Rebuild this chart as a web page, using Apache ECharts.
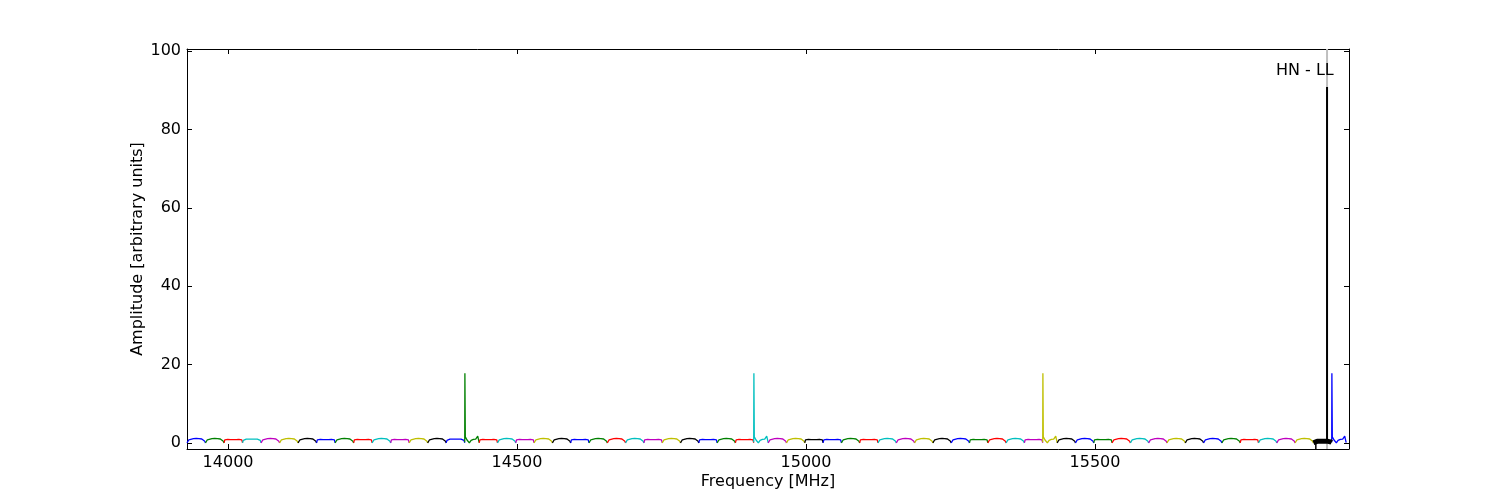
<!DOCTYPE html>
<html><head><meta charset="utf-8">
<script src="https://cdn.jsdelivr.net/npm/echarts@6/dist/echarts.min.js"></script>
<style>html,body{margin:0;padding:0;background:#fff}#c{width:1500px;height:500px}</style>
</head><body><div id="c"></div>
<script>
// ---- data ----
const xTicks = [14000, 14500, 15000, 15500];
const yTicks = [0, 20, 40, 60, 80, 100];
const xRange = [13929, 15939.4];
const yRange = [-1.5, 100.5];

// boundaries (MHz) of the consecutive spectrometer segments
const segmentEdges = [
  13929, 13961, 13993.1, 14025.1, 14057.1, 14089.2, 14121.2, 14153.2, 14185.3, 14217.3, 14249.3, 14281.4, 14313.4, 14345.4, 14377.5,
  14409.5, 14434.5, 14466.2, 14497.8, 14529.5, 14561.2, 14592.8, 14624.5, 14656.2, 14687.8, 14719.5, 14751.2, 14782.8, 14814.5, 14846.2, 14877.8,
  14909.5, 14934.5, 14966.2, 14997.8, 15029.5, 15061.2, 15092.8, 15124.5, 15156.2, 15187.8, 15219.5, 15251.2, 15282.8, 15314.5, 15346.2, 15377.8,
  15409.5, 15434.5, 15466.2, 15497.8, 15529.5, 15561.2, 15592.8, 15624.5, 15656.2, 15687.8, 15719.5, 15751.2, 15782.8, 15814.5, 15846.2, 15877.8,
  15909.5, 15945
];
// segments that start with a spike, and the spike heights
const spikeSegments = [15, 31, 47, 63];
const spikeHeights = [17.8, 17.8, 17.8, 17.8];
// passband profiles (fraction of segment width -> amplitude)
const profileOffsets = [0, 0.04, 0.1, 0.2, 0.35, 0.5, 0.65, 0.8, 0.9, 0.96, 1];
const archValues  = [0.05, 0.5, 0.85, 1.05, 1.15, 1.18, 1.15, 1.05, 0.85, 0.5, 0.05];
const hornValues  = [0.1, 0.85, 1.3, 0.95, 0.9, 0.9, 0.9, 0.95, 1.3, 0.85, 0.1];
const flatValues  = [0.1, 0.7, 0.95, 1.0, 1.0, 1.0, 1.0, 1.0, 0.95, 0.7, 0.1];
const thickValues = [0.1, 0.3, 0.4, 0.45, 0.45, 0.45, 0.45, 0.45, 0.4, 0.3, 0.2];
// profile used by each segment (0 arch, 1 horns, 2 flat, 3 thick highlighted)
const segmentShapes = [
  0,0,1,2,0,0,0,1,0,1,0,1,0,0,2,
  0,1,0,1,0,0,1,0,0,0,1,0,0,1,0,1,
  0,0,0,1,1,0,1,0,0,0,0,0,1,0,0,1,
  0,0,0,1,0,0,0,0,0,0,0,1,0,0,0,3,
  0
];
// profile after a spike: MHz after spike start -> amplitude
const spikeTailOffsets = [1.0, 4, 8, 11, 15, 19, 22.5, 25];
const spikeTailValues  = [1.6, 0.8, 0.05, 0.7, 0.95, 1.0, 1.8, 0.15];
const highlightSegment = 62;
// HN - LL line
const lineFreq = 15901.4;
const lineHeight = 90.8;
const markerTickFreq = 15882;
const labelText = 'HN - LL';
const labelPos = [15863, 94.9];

const colorCycle = ['#0000ff', '#008000', '#ff0000', '#00bfbf', '#bf00bf', '#bfbf00', '#000000'];
const shapeTable = [archValues, hornValues, flatValues, thickValues];

const series = [];
// grey full-height line first (behind)
series.push({type:'line', data:[[lineFreq, yRange[0]], [lineFreq, yRange[1]]], showSymbol:false,
  lineStyle:{color:'#bfbfbf', width:2}, silent:true, z:1, animation:false});

for (let i = 0; i < segmentEdges.length - 1; i++) {
  const a = segmentEdges[i], b = segmentEdges[i + 1];
  const pts = [];
  const si = spikeSegments.indexOf(i);
  if (si >= 0) {
    pts.push([a, 0.2]);
    pts.push([a + 0.3, spikeHeights[si]]);
    for (let k = 0; k < spikeTailOffsets.length; k++) pts.push([a + spikeTailOffsets[k], spikeTailValues[k]]);
  } else {
    const vals = shapeTable[segmentShapes[i]];
    for (let k = 0; k < profileOffsets.length; k++) pts.push([a + profileOffsets[k] * (b - a), vals[k]]);
  }
  series.push({type:'line', data:pts, showSymbol:false, animation:false, silent:true,
    lineStyle:{color:colorCycle[i % colorCycle.length], width: i === highlightSegment ? 5 : 1.3},
    z: i === highlightSegment ? 3 : 2});
}
// black HN-LL line
series.push({type:'line', data:[[lineFreq, 0], [lineFreq, lineHeight]], showSymbol:false, animation:false,
  lineStyle:{color:'#000', width:2}, z:4, silent:true});
series.push({type:'line', data:[[markerTickFreq, yRange[0]], [markerTickFreq, 0.5]], showSymbol:false, animation:false,
  lineStyle:{color:'#000', width:1.5}, z:4, silent:true});
series.push({type:'scatter', data:[labelPos], symbolSize:0, animation:false, silent:true, z:5,
  itemStyle:{color:'#000', opacity:1},
  label:{show:true, position:'inside', formatter:labelText, color:'#000', textBorderWidth:0, opacity:1,
    fontSize:16, fontFamily:'DejaVu Sans'}});

const font = {color:'#000', fontSize:16, fontFamily:'DejaVu Sans'};
const plain = v => String(v);
const baseX = {type:'value', min:xRange[0], max:xRange[1], splitLine:{show:false},
  axisLine:{show:true, onZero:false, lineStyle:{color:'#000', width:1}},
  axisTick:{show:true, inside:true, length:5, lineStyle:{color:'#000'}, customValues:xTicks}};
const baseY = {type:'value', min:yRange[0], max:yRange[1], splitLine:{show:false},
  axisLine:{show:true, onZero:false, lineStyle:{color:'#000', width:1}},
  axisTick:{show:true, inside:true, length:5, lineStyle:{color:'#000'}, customValues:yTicks}};

const option = {
  backgroundColor:'#fff',
  animation:false,
  grid:{left:187, right:151, top:49, bottom:51, containLabel:false},
  xAxis:[
    Object.assign({}, baseX, {position:'bottom', name:'Frequency [MHz]', nameLocation:'middle', nameGap:25,
      nameMoveOverlap:false,
      nameTextStyle:font, axisLabel:Object.assign({show:true, margin:6, customValues:xTicks, formatter:plain}, font)}),
    Object.assign({}, baseX, {position:'top', axisLabel:{show:false}})
  ],
  yAxis:[
    Object.assign({}, baseY, {position:'left', name:'Amplitude [arbitrary units]', nameLocation:'middle', nameGap:41,
      nameMoveOverlap:false,
      nameTextStyle:font, axisLabel:Object.assign({show:true, margin:6, customValues:yTicks, formatter:plain}, font)}),
    Object.assign({}, baseY, {position:'right', axisLabel:{show:false}})
  ],
  series: series
};
const chart = echarts.init(document.getElementById('c'), null, {renderer:'canvas'});
chart.setOption(option);
</script>
</body></html>
